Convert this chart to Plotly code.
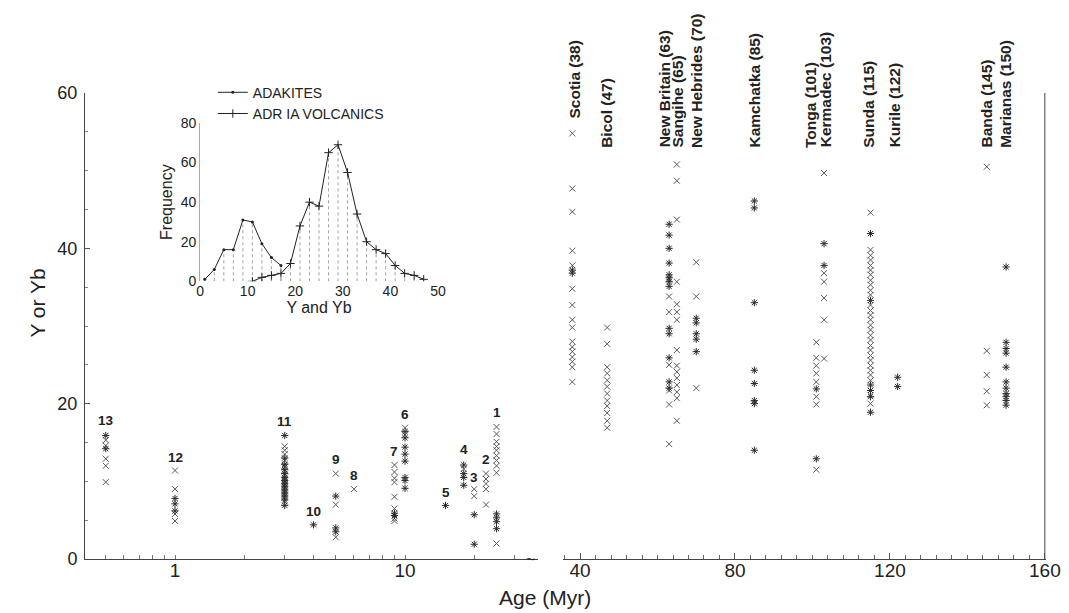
import math
import plotly.graph_objects as go

# ---------------- left (log-age) groups 1..13 ----------------
grp_labels = ['1', '2', '3', '4', '5', '6', '7', '8', '9', '10', '11', '12', '13']
grp_ages = [25, 22.5, 20, 18, 15, 10, 9, 6, 5, 4, 3, 1, 0.5]
grp_label_y = [18.8, 12.8, 10.5, 14.1, 8.5, 18.6, 13.8, 10.7, 12.8, 6.1, 17.7, 13.1, 17.8]

g1_Y = [17.0, 16.1, 15.1, 14.5, 14.0, 13.3, 12.7, 12.0, 11.1, 2.0]
g1_Yb = [5.8, 5.3, 4.8, 3.9]
g2_Y = [11.0, 10.3, 9.7, 9.0, 7.0]
g2_Yb = []
g3_Y = [9.0, 8.1]
g3_Yb = [5.7, 1.9]
g4_Y = [11.6]
g4_Yb = [12.1, 11.0, 10.5, 9.5]
g5_Y = []
g5_Yb = [6.9]
g6_Y = [16.9, 16.0]
g6_Yb = [16.4, 15.6, 14.4, 13.5, 12.6, 10.5, 10.1, 9.1]
g7_Y = [12.1, 11.2, 10.4, 9.9, 8.0, 6.5, 5.2, 4.9]
g7_Yb = [5.9, 5.6]
g8_Y = [9.0]
g8_Yb = []
g9_Y = [11.0, 7.0, 2.8]
g9_Yb = [8.1, 4.0, 3.5]
g10_Y = []
g10_Yb = [4.4]
g11_Y = [14.5, 14.0, 13.5, 12.7, 12.0, 11.8, 11.3, 10.8, 10.3, 9.9, 9.5, 9.1, 8.7, 8.3, 7.9, 7.4]
g11_Yb = [15.9, 13.0, 12.2, 11.5, 11.0, 10.5, 10.1, 9.7, 9.3, 8.9, 8.5, 8.1, 7.6, 6.9]
g12_Y = [11.4, 9.0, 5.8, 4.9]
g12_Yb = [7.8, 7.1, 6.2]
g13_Y = [15.3, 14.6, 12.9, 12.0, 9.9]
g13_Yb = [15.9, 14.2]

grp_Y = [g1_Y, g2_Y, g3_Y, g4_Y, g5_Y, g6_Y, g7_Y, g8_Y, g9_Y, g10_Y, g11_Y, g12_Y, g13_Y]
grp_Yb = [g1_Yb, g2_Yb, g3_Yb, g4_Yb, g5_Yb, g6_Yb, g7_Yb, g8_Yb, g9_Yb, g10_Yb, g11_Yb, g12_Yb, g13_Yb]

# ---------------- right (linear-age) arcs ----------------
arc_names = ['Scotia', 'Bicol', 'New Britain', 'Sangihe', 'New Hebrides', 'Kamchatka',
             'Tonga', 'Kermadec', 'Sunda', 'Kurile', 'Banda', 'Marianas']
arc_ages = [38, 47, 63, 65, 70, 85, 101, 103, 115, 122, 145, 150]

scotia_Y = [54.8, 47.7, 44.7, 39.7, 37.8, 34.8, 32.7, 30.8, 29.8, 28.0, 27.3, 26.7, 26.0, 25.4, 24.7, 22.8]
scotia_Yb = [37.2, 36.8]
bicol_Y = [29.8, 27.7, 24.7, 23.9, 23.0, 22.2, 21.3, 20.4, 19.7, 18.8, 17.8, 16.9]
bicol_Yb = []
newbritain_Y = [36.0, 33.8, 31.8, 25.0, 21.7, 19.9, 14.8]
newbritain_Yb = [43.1, 41.7, 40.0, 38.1, 36.6, 36.2, 35.7, 35.1, 29.7, 29.0, 25.9, 22.8, 22.0]
sangihe_Y = [50.8, 48.7, 43.7, 35.7, 32.8, 31.8, 30.8, 26.9, 24.9, 24.1, 23.3, 22.4, 21.5, 20.7, 17.8]
sangihe_Yb = []
newhebrides_Y = [38.2, 33.8, 22.0]
newhebrides_Yb = [31.0, 30.4, 29.0, 28.3, 26.7]
kamchatka_Y = []
kamchatka_Yb = [46.1, 45.2, 33.0, 24.3, 22.6, 20.4, 20.0, 14.0]
tonga_Y = [27.9, 25.9, 24.9, 23.9, 22.8, 20.9, 19.9, 11.5]
tonga_Yb = [21.9, 12.9]
kermadec_Y = [49.7, 36.8, 35.7, 33.6, 30.8, 25.8]
kermadec_Yb = [40.6, 37.8]
sunda_Y = [44.6, 39.8, 39.1, 38.5, 37.8, 37.2, 36.6, 35.9, 35.3, 34.6, 34.0, 32.7, 32.0, 31.4,
           30.8, 30.1, 29.5, 28.8, 28.2, 27.5, 26.9, 26.2, 25.6, 24.9, 24.3, 23.7, 23.0, 21.1, 20.0]
sunda_Yb = [41.9, 33.3, 22.4, 21.7, 20.9, 18.9]
kurile_Y = []
kurile_Yb = [23.4, 22.2]
banda_Y = [50.5, 26.8, 23.7, 21.6, 19.8]
banda_Yb = []
marianas_Y = []
marianas_Yb = [37.6, 27.9, 27.1, 26.5, 24.7, 22.8, 22.0, 21.3, 20.9, 20.4, 19.8]

arc_Y = [scotia_Y, bicol_Y, newbritain_Y, sangihe_Y, newhebrides_Y, kamchatka_Y,
         tonga_Y, kermadec_Y, sunda_Y, kurile_Y, banda_Y, marianas_Y]
arc_Yb = [scotia_Yb, bicol_Yb, newbritain_Yb, sangihe_Yb, newhebrides_Yb, kamchatka_Yb,
          tonga_Yb, kermadec_Yb, sunda_Yb, kurile_Yb, banda_Yb, marianas_Yb]
arc_label_shift = [2, 0, -5, 1, 0, 0, -6, 1, -2, -3, 0, 0]

# ---------------- inset frequency polygons ----------------
adakite_bins = [1, 3, 5, 7, 9, 11, 13, 15, 17]
adakite_freq = [1, 6, 16, 16, 31, 30, 19, 12, 8]
adr_bins = [11, 13, 15, 17, 19, 21, 23, 25, 27, 29, 31, 33, 35, 37, 39, 41, 43, 45, 47]
adr_freq = [0, 2, 3, 4, 9, 28, 40, 38, 65, 69, 55, 34, 20, 16, 14, 8, 4, 3, 1]

# axis tick positions (log segment) and labels
log_tickvals = [0.5, 0.6, 0.7, 0.8, 0.9, 1, 2, 3, 4, 5, 6, 7, 8, 9, 10, 20, 30]
log_ticktext = ["" if v not in (1, 10) else str(v) for v in log_tickvals]

FONT = "Liberation Sans, Arial, Helvetica, sans-serif"
INK = "#222222"
X_COL = "#5a5a5a"
S_COL = "#2a2a2a"

fig = go.Figure()


def add_points(xaxis, ages, ylists, symbol, color, size):
    xs, ys = [], []
    for a, vals in zip(ages, ylists):
        xs += [a] * len(vals)
        ys += vals
    fig.add_trace(go.Scatter(
        x=xs, y=ys, mode="markers", xaxis=xaxis, yaxis="y", showlegend=False,
        marker=dict(symbol=symbol, size=size, color=color,
                    line=dict(color=color, width=1)),
        hoverinfo="x+y"))


add_points("x", grp_ages, grp_Y, "x-thin", X_COL, 6)
add_points("x", grp_ages, grp_Yb, "asterisk", S_COL, 6)
add_points("x2", arc_ages, arc_Y, "x-thin", X_COL, 6)
add_points("x2", arc_ages, arc_Yb, "asterisk", S_COL, 6)

# inset histogram dotted stems
for bins, freq in ((adakite_bins, adakite_freq), (adr_bins, adr_freq)):
    sx, sy = [], []
    for b, f in zip(bins, freq):
        sx += [b, b, None]
        sy += [0, f, None]
    fig.add_trace(go.Scatter(x=sx, y=sy, mode="lines", xaxis="x3", yaxis="y3",
                             showlegend=False, hoverinfo="skip",
                             line=dict(color="#a0a0a0", width=1, dash="dot")))

fig.add_trace(go.Scatter(x=adakite_bins, y=adakite_freq, mode="lines+markers",
                         name="ADAKITES", xaxis="x3", yaxis="y3",
                         line=dict(color=INK, width=1),
                         marker=dict(symbol="circle", size=3, color=INK)))
fig.add_trace(go.Scatter(x=adr_bins, y=adr_freq, mode="lines+markers",
                         name="ADR IA VOLCANICS", xaxis="x3", yaxis="y3",
                         line=dict(color=INK, width=1),
                         marker=dict(symbol="cross-thin", size=6,
                                     line=dict(color=INK, width=1))))

annotations = []
for lab, a, ly in zip(grp_labels, grp_ages, grp_label_y):
    annotations.append(dict(text="<b>%s</b>" % lab, x=math.log10(a), y=ly, xref="x", yref="y",
                            showarrow=False, font=dict(family=FONT, size=13.5, color=INK),
                            xanchor="center", yanchor="middle"))
for i, (name, a, sh) in enumerate(zip(arc_names, arc_ages, arc_label_shift)):
    top_val = max(arc_Y[i] + arc_Yb[i])
    base = 52.7 if top_val < 53 else 56.5
    annotations.append(dict(text="<b>%s (%d)</b>" % (name, a), x=a, y=base,
                            xref="x2", yref="y", textangle=-90, showarrow=False,
                            xanchor="center", yanchor="bottom", xshift=sh,
                            font=dict(family=FONT, size=15.5, color=INK)))
annotations.append(dict(text="~", x=0.464, y=0, xref="paper", yref="y", showarrow=False,
                        font=dict(family=FONT, size=16, color=INK), yanchor="middle"))
# axis titles
annotations.append(dict(text="Age (Myr)", x=0.4787, y=-0.083, xref="paper", yref="paper",
                        showarrow=False, xanchor="center", yanchor="middle",
                        font=dict(family=FONT, size=21, color=INK)))
annotations.append(dict(text="Y or Yb", x=-0.049, y=0.55, xref="paper", yref="paper",
                        showarrow=False, xanchor="center", yanchor="middle", textangle=-90,
                        font=dict(family=FONT, size=21, color=INK)))

fig.update_layout(
    width=1069, height=613,
    margin=dict(l=77, r=31, t=85, b=62),
    paper_bgcolor="white", plot_bgcolor="white",
    font=dict(family=FONT, color=INK),
    annotations=annotations,
    legend=dict(x=0.133, y=1.035, xanchor="left", yanchor="top",
                bgcolor="rgba(0,0,0,0)", font=dict(family=FONT, size=14, color=INK),
                itemwidth=30, tracegroupgap=0),
    xaxis=dict(type="log", domain=[0, 0.4714], range=[-0.3913, 1.5783],
               tickvals=log_tickvals, ticktext=log_ticktext,
               ticks="inside", ticklen=4, tickcolor="#777",
               showline=True, linecolor="#444", linewidth=1, showgrid=False, zeroline=False,
               tickfont=dict(size=19), anchor="y", ticklabelstandoff=-6),
    xaxis2=dict(domain=[0.4974, 1], range=[35.6, 160.3],
                tickvals=[40, 80, 120, 160],
                ticks="inside", ticklen=6, tickcolor="#555",
                minor=dict(ticks="inside", ticklen=4, dtick=4, tickcolor="#666"),
                showline=True, linecolor="#444", linewidth=1, showgrid=False, zeroline=False,
                tickfont=dict(size=19), anchor="y", ticklabelstandoff=-6),
    yaxis=dict(domain=[0, 1], range=[0, 60], tickvals=[0, 20, 40, 60],
               ticks="inside", ticklen=5, tickcolor="#555",
               minor=dict(ticks="inside", ticklen=3, dtick=5, tickcolor="#888"),
               showline=True, linecolor="#444", linewidth=1, showgrid=False, zeroline=False,
               tickfont=dict(size=18), anchor="x", ticklabelstandoff=3),
    xaxis3=dict(domain=[0.1197, 0.3673], range=[0, 50], anchor="y3",
                tickvals=[0, 10, 20, 30, 40, 50], ticks="", showline=False,
                showgrid=False, zeroline=False, tickfont=dict(size=14),
                title=dict(text="Y and Yb", font=dict(size=16), standoff=2)),
    yaxis3=dict(domain=[0.5959, 0.9356], range=[0, 80], anchor="x3",
                tickvals=[0, 20, 40, 60, 80], ticks="", showline=True,
                linecolor="#aaa", linewidth=1, showgrid=False, zeroline=False,
                tickfont=dict(size=14),
                title=dict(text="Frequency", font=dict(size=16), standoff=4)),
    shapes=[dict(type="line", xref="x2", yref="y", x0=160, x1=160, y0=0, y1=60,
                 line=dict(color="#444", width=1))],
)

fig.write_html("out.html")
